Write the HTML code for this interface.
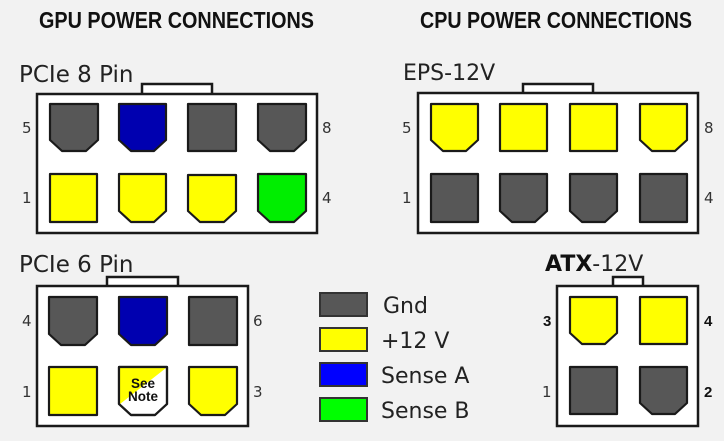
<!DOCTYPE html>
<html><head><meta charset="utf-8"><style>
html,body{margin:0;padding:0;background:#f2f2f2;}
svg{display:block;}
text{font-family:"Liberation Sans","DejaVu Sans",sans-serif;}
.lbl{font-family:"DejaVu Sans","Liberation Sans",sans-serif;font-size:22px;fill:#222;}
.num{font-family:"DejaVu Sans","Liberation Sans",sans-serif;font-size:15px;fill:#333;}
.p{stroke:#1a1a1a;stroke-width:2.2;stroke-linejoin:round;}
.g{fill:#575757;}.y{fill:#ffff00;}.b{fill:#0000b0;}.gr{fill:#00ee00;}
.box{fill:#fff;stroke:#1a1a1a;stroke-width:2.5;}
</style></head><body>
<svg width="724" height="441" viewBox="0 0 724 441" xmlns="http://www.w3.org/2000/svg">
<rect width="724" height="441" fill="#f2f2f2"/>
<text x="39" y="28" font-size="23" font-weight="bold" textLength="275" lengthAdjust="spacingAndGlyphs" fill="#111">GPU POWER CONNECTIONS</text>
<text x="420" y="28" font-size="23" font-weight="bold" textLength="272" lengthAdjust="spacingAndGlyphs" fill="#111">CPU POWER CONNECTIONS</text>

<!-- PCIe 8 -->
<text class="lbl" x="19" y="82" style="font-size:23px">PCIe 8 Pin</text>
<rect class="box" x="142" y="84" width="70" height="12"/>
<rect class="box" x="37" y="94" width="280" height="139"/>
<g class="p">
<path class="g" d="M50,104H98V140L86,151H62L50,140Z"/>
<path class="b" d="M119,104H166V140L154,151H131L119,140Z"/>
<rect class="g" x="188" y="104" width="48" height="47"/>
<path class="g" d="M258,104H306V140L294,151H270L258,140Z"/>
<rect class="y" x="50" y="174" width="47" height="48"/>
<path class="y" d="M119,174H166V211L154,222H131L119,211Z"/>
<path class="y" d="M188,175H236V211L224,222H200L188,211Z"/>
<path class="gr" d="M258,174H306V211L294,222H270L258,211Z"/>
</g>
<text class="num" x="22" y="133">5</text><text class="num" x="322" y="133">8</text>
<text class="num" x="22" y="203">1</text><text class="num" x="322" y="203">4</text>

<!-- PCIe 6 -->
<text class="lbl" x="19" y="272" style="font-size:23px">PCIe 6 Pin</text>
<rect class="box" x="107" y="277" width="71" height="12"/>
<rect class="box" x="37" y="286" width="211" height="140"/>
<g class="p">
<path class="g" d="M49,297H97V334L85,345H61L49,334Z"/>
<path class="b" d="M119,297H167V334L155,345H131L119,334Z"/>
<rect class="g" x="189" y="297" width="48" height="48"/>
<rect class="y" x="49" y="367" width="48" height="48"/>
<path fill="#fff" d="M119,367H167V404L155,415H131L119,404Z"/>
<path class="y" style="stroke:none" d="M120,368H166L120,404Z"/>
<path fill="none" d="M119,367H167V404L155,415H131L119,404Z"/>
<path class="y" d="M189,367H237V404L225,415H201L189,404Z"/>
</g>
<text x="143" y="388" font-size="13.5" font-weight="bold" text-anchor="middle" fill="#111" font-family="DejaVu Sans, sans-serif">See</text>
<text x="143" y="401" font-size="13.5" font-weight="bold" text-anchor="middle" fill="#111" font-family="DejaVu Sans, sans-serif">Note</text>
<text class="num" x="22" y="326">4</text><text class="num" x="253" y="326">6</text>
<text class="num" x="22" y="397">1</text><text class="num" x="253" y="397">3</text>

<!-- EPS -->
<text class="lbl" x="403" y="80">EPS-12V</text>
<rect class="box" x="523" y="84" width="70" height="12"/>
<rect class="box" x="418" y="93" width="280" height="140"/>
<g class="p">
<path class="y" d="M431,104H478V140L466,151H443L431,140Z"/>
<rect class="y" x="500" y="104" width="47" height="47"/>
<rect class="y" x="570" y="104" width="47" height="47"/>
<path class="y" d="M640,104H687V140L675,151H652L640,140Z"/>
<rect class="g" x="431" y="174" width="47" height="48"/>
<path class="g" d="M500,174H547V211L535,222H512L500,211Z"/>
<path class="g" d="M570,174H617V211L605,222H582L570,211Z"/>
<rect class="g" x="640" y="174" width="47" height="48"/>
</g>
<text class="num" x="402" y="133">5</text><text class="num" x="704" y="133">8</text>
<text class="num" x="402" y="203">1</text><text class="num" x="704" y="203">4</text>

<!-- ATX -->
<text class="lbl" x="545" y="271"><tspan font-weight="bold" fill="#111">ATX</tspan>-12V</text>
<rect class="box" x="613" y="277" width="30" height="11"/>
<rect class="box" x="557" y="286" width="141" height="140"/>
<g class="p">
<path class="y" d="M570,297H617V333L605,344H582L570,333Z"/>
<rect class="y" x="640" y="297" width="47" height="47"/>
<rect class="g" x="570" y="367" width="47" height="47"/>
<path class="g" d="M640,367H687V403L675,414H652L640,403Z"/>
</g>
<text x="543" y="326" font-size="15" font-weight="bold" fill="#111">3</text>
<text x="704" y="326" font-size="15" font-weight="bold" fill="#111">4</text>
<text class="num" x="542" y="397">1</text>
<text x="704" y="397" font-size="15" font-weight="bold" fill="#111">2</text>

<!-- Legend -->
<g stroke="#333" stroke-width="2">
<rect x="320" y="293" width="47" height="23" fill="#575757"/>
<rect x="320" y="328" width="47" height="23" fill="#ffff00"/>
<rect x="320" y="363" width="47" height="23" fill="#0000ff"/>
<rect x="320" y="398" width="47" height="23" fill="#00ff00"/>
</g>
<text class="lbl" x="383" y="313">Gnd</text>
<text class="lbl" x="381" y="348">+12 V</text>
<text class="lbl" x="381" y="383">Sense A</text>
<text class="lbl" x="381" y="418">Sense B</text>
</svg>
</body></html>
